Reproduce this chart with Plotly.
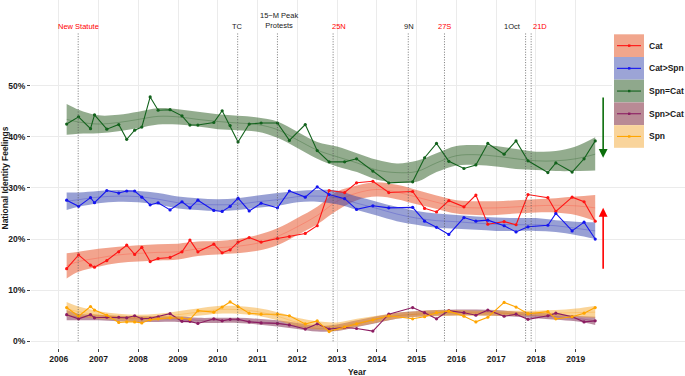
import plotly.graph_objects as go

# ---------------- data ----------------
survey_years = [2006.20, 2006.50, 2006.80, 2006.90, 2007.21, 2007.51, 2007.71, 2007.91,
                2008.09, 2008.30, 2008.50, 2008.80, 2009.10, 2009.30, 2009.50, 2009.90,
                2010.11, 2010.31, 2010.51, 2010.79, 2011.09, 2011.50, 2011.80, 2012.20,
                2012.50, 2012.80, 2013.19, 2013.49, 2013.90, 2014.30, 2014.90, 2015.20,
                2015.50, 2015.81, 2016.19, 2016.49, 2016.79, 2017.20, 2017.50, 2017.80,
                2018.30, 2018.50, 2018.91, 2019.21, 2019.49]

cat_vals = [14.2, 16.9, 14.9, 14.5, 15.8, 17.5, 18.8, 17.0, 18.4, 15.6, 16.2, 16.4,
            17.5, 19.8, 17.5, 19.0, 17.3, 17.9, 19.4, 20.3, 19.4, 20.1, 20.5, 21.1,
            22.6, 29.5, 29.1, 31.0, 31.3, 29.1, 29.3, 26.0, 25.3, 27.5, 26.3, 28.6,
            22.9, 23.4, 22.8, 28.7, 28.1, 25.4, 28.2, 27.3, 23.5]
cat_spn_vals = [27.6, 26.4, 28.1, 27.1, 29.5, 29.0, 29.4, 29.4, 28.2, 26.7, 27.1, 25.7,
                27.3, 26.1, 27.6, 25.6, 25.4, 26.4, 28.0, 25.5, 27.0, 26.1, 29.4, 28.2,
                30.2, 28.7, 27.9, 25.8, 26.5, 26.1, 26.2, 23.5, 22.3, 20.9, 24.2, 23.5,
                23.7, 22.6, 21.4, 22.4, 22.7, 25.0, 21.6, 23.3, 20.0]
spn_eq_cat_vals = [42.5, 43.9, 41.6, 44.3, 41.5, 42.4, 39.5, 41.3, 41.9, 47.8, 45.2, 45.3,
                   44.1, 42.3, 42.3, 42.8, 45.1, 42.2, 39.0, 42.5, 42.7, 42.7, 39.3, 42.4,
                   37.3, 35.1, 35.1, 35.7, 33.3, 31.0, 31.2, 35.9, 38.7, 35.2, 33.8, 34.5,
                   38.7, 36.6, 39.2, 35.3, 33.0, 34.9, 33.1, 35.7, 39.2]
spn_gt_cat_vals = [5.2, 4.4, 5.2, 4.6, 4.7, 4.7, 4.6, 5.0, 4.4, 4.5, 4.8, 5.4,
                   3.9, 3.9, 3.5, 4.4, 4.0, 4.3, 4.3, 3.8, 3.6, 3.5, 3.2, 2.4,
                   3.4, 2.4, 2.7, 2.5, 2.0, 5.3, 6.6, 5.6, 4.4, 6.0, 5.6, 5.1,
                   6.1, 4.9, 5.3, 4.3, 5.0, 5.5, 4.8, 3.8, 4.0]
spn_vals = [6.6, 4.9, 6.8, 6.1, 5.1, 3.7, 3.8, 3.8, 3.6, 4.2, 4.4, 4.6,
            4.5, 4.3, 6.0, 5.7, 6.7, 7.7, 6.8, 5.5, 5.3, 5.3, 5.0, 3.4,
            4.0, 1.9, 2.8, 3.4, 4.2, 5.0, 4.4, 4.8, 5.6, 5.9, 4.9, 3.8,
            4.7, 7.6, 6.7, 5.4, 5.8, 4.4, 4.8, 5.5, 6.6]

# smoothed trend (loess) with confidence band
smooth_years = [2006.2, 2006.5, 2007.0, 2007.5, 2008.0, 2008.5, 2009.0, 2009.5, 2010.0,
                2010.5, 2011.0, 2011.5, 2012.0, 2012.5, 2013.0, 2013.5, 2014.0, 2014.5,
                2015.0, 2015.5, 2016.0, 2016.5, 2017.0, 2017.5, 2018.0, 2018.5, 2019.0, 2019.49]

cat_fit = [14.8, 15.6, 16.3, 16.9, 17.2, 17.4, 17.5, 18.1, 18.3, 18.6, 19.2, 20.5, 22.4, 24.6,
           27.4, 29.0, 29.7, 29.2, 28.2, 27.2, 26.3, 26.1, 26.1, 26.3, 26.5, 26.6, 26.5, 26.1]
cat_lo = [12.3, 13.6, 14.6, 15.3, 15.6, 15.8, 16.0, 16.7, 17.0, 17.2, 17.7, 18.8, 20.8, 22.9,
          25.6, 27.6, 28.3, 27.8, 26.8, 25.9, 25.0, 24.7, 24.7, 25.0, 25.2, 25.2, 24.7, 23.5]
cat_hi = [17.2, 17.5, 18.1, 18.5, 18.8, 19.0, 19.1, 19.5, 19.6, 20.0, 20.8, 22.1, 24.1, 26.3,
          29.3, 30.5, 31.1, 30.6, 29.6, 28.5, 27.6, 27.4, 27.4, 27.6, 27.8, 28.0, 28.3, 28.6]

cat_spn_fit = [27.4, 27.7, 28.2, 28.4, 28.3, 27.8, 27.1, 26.8, 26.7, 26.8, 27.3, 27.7, 28.3, 28.4,
               28.1, 27.0, 26.0, 24.9, 24.1, 23.6, 23.4, 23.1, 22.9, 22.8, 22.8, 22.6, 22.1, 21.6]
cat_spn_lo = [25.7, 26.3, 27.0, 27.3, 27.2, 26.7, 26.0, 25.7, 25.5, 25.7, 26.1, 26.5, 27.2, 27.3,
              26.8, 25.7, 24.6, 23.5, 22.8, 22.2, 22.0, 21.8, 21.6, 21.6, 21.6, 21.4, 20.8, 20.0]
cat_spn_hi = [29.1, 29.1, 29.4, 29.6, 29.4, 29.0, 28.3, 28.0, 27.8, 28.0, 28.5, 29.0, 29.4, 29.6,
              29.5, 28.3, 27.3, 26.3, 25.5, 25.0, 24.7, 24.4, 24.2, 24.1, 24.1, 23.7, 23.4, 23.3]

spn_eq_cat_fit = [43.4, 42.9, 42.5, 42.8, 43.4, 44.0, 43.9, 43.4, 43.0, 42.7, 42.4, 41.4, 39.4, 37.4,
                  36.1, 34.9, 33.5, 33.0, 33.2, 34.9, 36.3, 36.5, 36.2, 35.7, 35.3, 35.3, 35.7, 36.6]
spn_eq_cat_lo = [40.4, 40.6, 40.7, 41.1, 41.7, 42.4, 42.4, 42.0, 41.5, 41.3, 41.0, 39.8, 37.8, 35.7,
                 34.2, 33.1, 31.6, 31.1, 31.2, 33.1, 34.4, 34.5, 34.2, 33.7, 33.5, 33.3, 33.3, 33.4]
spn_eq_cat_hi = [46.4, 45.3, 44.2, 44.3, 44.9, 45.6, 45.4, 44.9, 44.4, 44.1, 43.8, 43.0, 41.0, 39.0,
                 38.1, 36.8, 35.5, 34.8, 35.3, 36.8, 38.2, 38.4, 38.2, 37.6, 37.1, 37.2, 38.1, 39.9]

spn_gt_cat_fit = [5.1, 4.8, 4.7, 4.5, 4.4, 4.4, 4.4, 4.1, 4.1, 4.1, 3.8, 3.5, 3.0, 2.5,
                  2.6, 3.4, 4.3, 5.0, 5.3, 5.6, 5.7, 5.7, 5.6, 5.3, 5.0, 4.8, 4.5, 4.0]
spn_gt_cat_lo = [4.1, 4.1, 4.1, 3.9, 3.8, 3.8, 3.8, 3.6, 3.6, 3.6, 3.3, 2.9, 2.4, 1.9,
                 2.0, 2.8, 3.6, 4.4, 4.8, 5.0, 5.1, 5.1, 5.0, 4.8, 4.5, 4.2, 3.9, 3.2]
spn_gt_cat_hi = [6.1, 5.4, 5.2, 5.0, 4.9, 4.9, 4.9, 4.6, 4.6, 4.6, 4.4, 4.1, 3.6, 3.0,
                 3.3, 4.1, 4.9, 5.6, 5.9, 6.1, 6.2, 6.2, 6.1, 5.8, 5.6, 5.4, 5.0, 4.8]

spn_fit = [6.3, 5.8, 5.1, 4.8, 4.6, 4.8, 5.2, 5.7, 6.2, 6.2, 5.8, 4.9, 3.7, 3.1,
           2.9, 3.6, 4.4, 5.0, 5.3, 5.5, 5.6, 5.5, 5.5, 5.5, 5.5, 5.5, 5.6, 5.7]
spn_lo = [4.9, 4.8, 4.4, 4.1, 3.9, 4.1, 4.6, 5.0, 5.4, 5.4, 5.0, 4.1, 2.9, 2.3,
          2.1, 2.9, 3.7, 4.4, 4.8, 4.9, 5.0, 5.0, 5.0, 5.0, 5.0, 4.9, 4.8, 4.6]
spn_hi = [7.7, 6.8, 5.9, 5.4, 5.2, 5.4, 5.9, 6.4, 6.9, 6.9, 6.5, 5.7, 4.6, 3.9,
          3.7, 4.4, 5.0, 5.6, 5.9, 6.1, 6.1, 6.0, 6.0, 6.0, 6.0, 6.1, 6.4, 6.9]

series_names = ["Cat", "Cat>Spn", "Spn=Cat", "Spn>Cat", "Spn"]

# events
event_years = [2006.49, 2010.50, 2011.50, 2012.90, 2014.79, 2015.70, 2017.74, 2017.88]
event_labels = ["New Statute", "TC", "15\u2212M Peak<br>Protests", "25N", "9N", "27S", "1Oct", "21D"]
event_label_x = [2006.50, 2010.50, 2011.53, 2013.05, 2014.80, 2015.70, 2017.41, 2018.09]
event_is_red = [True, False, False, True, False, True, False, True]
event_top = 60.3
label_level = 61.5

x_ticks = list(range(2006, 2020))
y_ticks = [0, 10, 20, 30, 40, 50]

arrow_year = 2019.69
green_arrow = (48.0, 35.9)   # from, to
red_arrow = (13.9, 26.1)

# ---------------- styling ----------------
line_colors = ["#FF1414", "#1414F0", "#12621C", "#8B1C62", "#FFA500"]
band_colors = ["rgba(232,90,50,0.55)", "rgba(50,65,170,0.5)", "rgba(40,90,30,0.5)",
               "rgba(120,30,70,0.5)", "rgba(245,170,50,0.5)"]
fit_colors = ["rgba(255,60,40,0.3)", "rgba(40,40,200,0.3)", "rgba(20,80,20,0.3)",
              "rgba(120,20,80,0.3)", "rgba(255,150,0,0.3)"]
legend_fill = ["#F1A68D", "#9CA4D6", "#8FA88C", "#B98A95", "#F9D49B"]

W, H = 685, 376
ML, MR, MT, MB = 31, 0, 0, 28
PW, PH = W - ML - MR, H - MT - MB
FONT = "Liberation Sans, Arial, sans-serif"


def pxx(px):
    return (px - ML) / PW


def pxy(py):
    return (H - MB - py) / PH


fig = go.Figure()

vals = [cat_vals, cat_spn_vals, spn_eq_cat_vals, spn_gt_cat_vals, spn_vals]
fits = [cat_fit, cat_spn_fit, spn_eq_cat_fit, spn_gt_cat_fit, spn_fit]
los = [cat_lo, cat_spn_lo, spn_eq_cat_lo, spn_gt_cat_lo, spn_lo]
his = [cat_hi, cat_spn_hi, spn_eq_cat_hi, spn_gt_cat_hi, spn_hi]

# ribbons
for i in range(5):
    fig.add_trace(go.Scatter(x=smooth_years, y=los[i], mode="lines",
                             line=dict(width=0, shape="spline", smoothing=1.0),
                             showlegend=False, hoverinfo="skip"))
    fig.add_trace(go.Scatter(x=smooth_years, y=his[i], mode="lines", fill="tonexty",
                             fillcolor=band_colors[i],
                             line=dict(width=0, shape="spline", smoothing=1.0),
                             showlegend=False, hoverinfo="skip"))
    fig.add_trace(go.Scatter(x=smooth_years, y=fits[i], mode="lines",
                             line=dict(width=0.9, color=fit_colors[i], shape="spline", smoothing=1.0),
                             showlegend=False, hoverinfo="skip"))

# observed series
for i in range(5):
    fig.add_trace(go.Scatter(x=survey_years, y=vals[i], mode="lines+markers", name=series_names[i],
                             line=dict(width=1.1, color=line_colors[i]),
                             marker=dict(size=3.2, color=line_colors[i]),
                             showlegend=False))

shapes = []
annotations = []

# event lines and labels
for ey in event_years:
    shapes.append(dict(type="line", xref="x", yref="y", x0=ey, x1=ey, y0=0, y1=event_top,
                       line=dict(color="#555555", width=0.8, dash="1px,1.6px"), layer="above"))
for lx, lab, red in zip(event_label_x, event_labels, event_is_red):
    annotations.append(dict(x=lx, y=label_level, xref="x", yref="y", text=lab, showarrow=False,
                            xanchor="center", yanchor="bottom" if "<br>" in lab else "middle",
                            yshift=-5 if "<br>" in lab else 0,
                            font=dict(family=FONT, size=7.5, color="#FF0000" if red else "#1a1a1a")))

# arrows
annotations.append(dict(x=arrow_year, y=green_arrow[1], ax=arrow_year, ay=green_arrow[0],
                        xref="x", yref="y", axref="x", ayref="y", text="", showarrow=True,
                        arrowhead=2, arrowsize=1.1, arrowwidth=1.6, arrowcolor="#0B6E0B"))
annotations.append(dict(x=arrow_year, y=red_arrow[1], ax=arrow_year, ay=red_arrow[0],
                        xref="x", yref="y", axref="x", ayref="y", text="", showarrow=True,
                        arrowhead=2, arrowsize=1.1, arrowwidth=1.6, arrowcolor="#FF0000"))

# custom legend
shapes.append(dict(type="rect", xref="paper", yref="paper", x0=pxx(612), x1=pxx(685),
                   y0=pxy(158), y1=pxy(30), fillcolor="white", line=dict(width=0), layer="above"))
row_h = 22.7
top0 = 34.3
for i, name in enumerate(series_names):
    t = top0 + row_h * i
    c = t + row_h / 2
    shapes.append(dict(type="rect", xref="paper", yref="paper", x0=pxx(614), x1=pxx(644),
                       y0=pxy(t + row_h), y1=pxy(t), fillcolor=legend_fill[i],
                       line=dict(width=0), layer="above"))
    shapes.append(dict(type="line", xref="paper", yref="paper", x0=pxx(617), x1=pxx(641),
                       y0=pxy(c), y1=pxy(c), line=dict(color=line_colors[i], width=1.1),
                       layer="above"))
    shapes.append(dict(type="rect", xref="paper", yref="paper", x0=pxx(628), x1=pxx(630.4),
                       y0=pxy(c + 1.2), y1=pxy(c - 1.2), fillcolor=line_colors[i],
                       line=dict(width=0), layer="above"))
    annotations.append(dict(x=pxx(647), y=pxy(c), xref="paper", yref="paper", text="<b>%s</b>" % name,
                            showarrow=False, xanchor="left", yanchor="middle",
                            font=dict(family=FONT, size=8.5, color="#1a1a1a")))

# axis titles
annotations.append(dict(x=pxx(357), y=pxy(372), xref="paper", yref="paper", text="<b>Year</b>",
                        showarrow=False, xanchor="center", yanchor="middle",
                        font=dict(family=FONT, size=8.5, color="#1a1a1a")))
annotations.append(dict(x=pxx(4.5), y=pxy(178), xref="paper", yref="paper",
                        text="<b>National Identity Feelings</b>", textangle=-90,
                        showarrow=False, xanchor="center", yanchor="middle",
                        font=dict(family=FONT, size=8.5, color="#1a1a1a")))

fig.update_layout(
    width=W, height=H,
    margin=dict(l=ML, r=MR, t=MT, b=MB, pad=0),
    paper_bgcolor="white", plot_bgcolor="white",
    showlegend=False,
    shapes=shapes, annotations=annotations,
    font=dict(family=FONT, size=8.5, color="#1a1a1a"),
)
fig.update_xaxes(range=[2005.3035, 2021.748], tickvals=x_ticks,
                 ticktext=[str(t) for t in x_ticks],
                 tickfont=dict(family=FONT, size=8.5, color="#1a1a1a", weight="bold"),
                 showgrid=True, gridcolor="#EBEBEB", gridwidth=1, zeroline=False,
                 showline=False, ticks="outside", ticklen=3, tickwidth=0.8, tickcolor="#444",
                 automargin=False)
fig.update_yaxes(range=[-1.31, 66.76], tickvals=y_ticks,
                 ticktext=["%d%%" % t for t in y_ticks],
                 tickfont=dict(family=FONT, size=8.5, color="#1a1a1a", weight="bold"),
                 showgrid=True, gridcolor="#EBEBEB", gridwidth=1, zeroline=False,
                 showline=False, ticks="outside", ticklen=3, tickwidth=0.8, tickcolor="#444",
                 automargin=False)

fig.write_html("out.html",
               config={"displayModeBar": False},
               post_script="document.body.style.margin='0';document.body.style.padding='0';"
                           "document.body.style.overflow='hidden';")
